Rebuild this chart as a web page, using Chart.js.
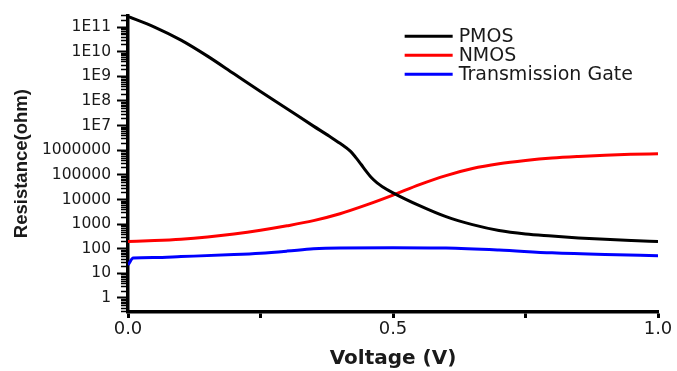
<!DOCTYPE html>
<html><head><meta charset="utf-8">
<script src="https://cdn.jsdelivr.net/npm/chart.js@4"></script>
<style>html,body{margin:0;padding:0;background:#fff}#wrap{width:677px;height:371px}</style>
</head><body><div id="wrap"><canvas id="c" width="677" height="371"></canvas></div>
<script>
const seriesNames = ['PMOS', 'NMOS', 'Transmission Gate'];
const seriesColors = ['#000000', '#ff0000', '#0000ff'];

const pmosV = [0, 0.05, 0.1, 0.15, 0.2, 0.25, 0.3, 0.35, 0.38, 0.4, 0.42, 0.43, 0.44, 0.45, 0.46, 0.47, 0.48, 0.5, 0.55, 0.6, 0.65, 0.7, 0.75, 0.8, 0.85, 0.9, 0.95, 1.0];
const pmosR = [2.7e11, 1.0e11, 2.95e10, 6.6e9, 1.26e9, 2.4e8, 4.8e7, 9.5e6, 3.7e6, 1.9e6, 8.9e5, 5.0e5, 2.63e5, 1.35e5, 7.4e4, 4.7e4, 3.3e4, 1.86e4, 5600, 2000, 950, 550, 400, 330, 275, 240, 215, 195];

const nmosV = [0, 0.05, 0.1, 0.15, 0.2, 0.25, 0.3, 0.35, 0.4, 0.45, 0.5, 0.55, 0.6, 0.65, 0.7, 0.75, 0.8, 0.85, 0.9, 0.95, 1.0];
const nmosR = [195, 214, 245, 302, 398, 562, 851, 1380, 2630, 6000, 15000, 40000, 93000, 180000, 280000, 380000, 480000, 560000, 630000, 680000, 720000];

const tgV = [0, 0.01, 0.05, 0.1, 0.2, 0.25, 0.3, 0.35, 0.4, 0.5, 0.6, 0.7, 0.8, 0.9, 1.0];
const tgR = [22, 42, 44, 48, 58, 66, 80, 100, 108, 110, 106, 88, 68, 58, 52];

const yMajorTicks = [1, 10, 100, 1000, 10000, 100000, 1000000, 1e7, 1e8, 1e9, 1e10, 1e11];
const yTickLabels = ['1', '10', '100', '1000', '10000', '100000', '1000000', '1E7', '1E8', '1E9', '1E10', '1E11'];
const xTicks = [0, 0.25, 0.5, 0.75, 1.0];
const xTickLabels = ['0.0', '', '0.5', '', '1.0'];

const toPts = (xs, ys) => xs.map((x, i) => ({x: x, y: ys[i]}));

const WIDE = '"DejaVu Sans", sans-serif';
const ARIAL = 'Arial, "Liberation Sans", sans-serif';

const minorTicks = {
  id: 'minorTicks',
  afterDraw(chart) {
    const s = chart.scales.y;
    const ctx = chart.ctx;
    ctx.save();
    ctx.strokeStyle = '#000';
    ctx.lineWidth = 1.5;
    for (let e = -1; e <= 11; e++) {
      for (let m = 2; m <= 9; m++) {
        const v = m * Math.pow(10, e);
        if (v < s.min || v > s.max) continue;
        const py = Math.round(s.getPixelForValue(v)) + 0.5;
        ctx.beginPath();
        ctx.moveTo(s.right - 7, py);
        ctx.lineTo(s.right, py);
        ctx.stroke();
      }
    }
    ctx.restore();
  }
};

const customLegend = {
  id: 'customLegend',
  afterDraw(chart) {
    const ctx = chart.ctx;
    const a = chart.chartArea;
    const x0 = a.left + (a.right - a.left) * 0.522;
    const y0 = a.top + 21;
    ctx.save();
    ctx.font = '19px ' + WIDE;
    ctx.textBaseline = 'middle';
    chart.data.datasets.forEach((ds, i) => {
      const y = y0 + i * 19;
      ctx.strokeStyle = ds.borderColor;
      ctx.lineWidth = 3;
      ctx.beginPath();
      ctx.moveTo(x0, y);
      ctx.lineTo(x0 + 48, y);
      ctx.stroke();
      ctx.fillStyle = '#1a1a1a';
      ctx.fillText(ds.label, x0 + 54, y + 1);
    });
    ctx.restore();
  }
};

const mk = (i, pts) => ({
  label: seriesNames[i],
  data: pts,
  borderColor: seriesColors[i],
  backgroundColor: seriesColors[i],
  borderWidth: 3,
  pointRadius: 0,
  fill: false,
  cubicInterpolationMode: 'monotone',
  tension: 0.4
});

new Chart(document.getElementById('c'), {
  type: 'line',
  data: {
    datasets: [
      mk(0, toPts(pmosV, pmosR)),
      mk(1, toPts(nmosV, nmosR)),
      mk(2, toPts(tgV, tgR))
    ]
  },
  options: {
    responsive: false,
    animation: false,
    layout: {padding: {top: 12, right: 19, left: 0, bottom: 0}},
    plugins: {legend: {display: false}, tooltip: {enabled: false}},
    scales: {
      x: {
        type: 'linear',
        min: 0, max: 1,
        afterBuildTicks: (s) => { s.ticks = xTicks.map(v => ({value: v})); },
        afterFit: (s) => { s.height = 59; },
        ticks: {
          autoSkip: false,
          maxRotation: 0,
          padding: 1,
          color: '#1a1a1a',
          font: {family: WIDE, size: 18},
          callback: (v) => { const i = xTicks.indexOf(v); return i >= 0 ? xTickLabels[i] : ''; }
        },
        grid: {drawOnChartArea: false, drawTicks: true, tickLength: 6, tickWidth: 3, tickColor: '#000'},
        border: {display: true, width: 3.5, color: '#000'},
        title: {display: true, text: 'Voltage (V)', color: '#1a1a1a', font: {family: WIDE, size: 20, weight: 'bold'}, padding: {top: 3, bottom: 0}}
      },
      y: {
        type: 'logarithmic',
        min: 0.27, max: 3e11,
        bounds: 'data',
        afterBuildTicks: (s) => { s.ticks = yMajorTicks.map(v => ({value: v, major: true})); },
        afterFit: (s) => { s.width = 128; },
        ticks: {
          autoSkip: false,
          padding: 6,
          color: '#1a1a1a',
          font: {family: WIDE, size: 15.5},
          callback: (v) => { const i = yMajorTicks.indexOf(v); return i >= 0 ? yTickLabels[i] : ''; }
        },
        grid: {drawOnChartArea: false, drawTicks: true, tickLength: 11, tickWidth: 2, tickColor: '#000'},
        border: {display: true, width: 3.5, color: '#000'},
        title: {display: true, text: 'Resistance(ohm)', color: '#1a1a1a', font: {family: ARIAL, size: 18.5, weight: 'bold'}, padding: {top: 11, bottom: 4}}
      }
    }
  },
  plugins: [minorTicks, customLegend]
});
</script>
</body></html>
